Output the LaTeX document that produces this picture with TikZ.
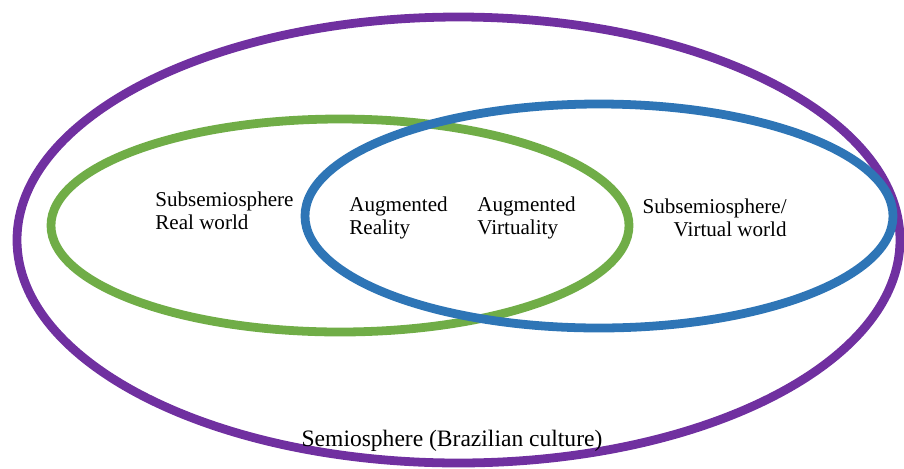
\documentclass[tikz,border=0pt]{standalone}
\usepackage{fontspec}
\setmainfont{Liberation Serif}
\usetikzlibrary{positioning}
\definecolor{semipurple}{HTML}{7030A0}
\definecolor{realgreen}{HTML}{70AD47}
\definecolor{virtblue}{HTML}{2E75B6}

\begin{document}
\begin{tikzpicture}[x=0.02cm, y=-0.02cm, auto,
    ring/.style={line width=5pt},
    label text/.style={inner sep=0, font=\fontsize{12}{13}\selectfont}]
	\useasboundingbox (0,0) rectangle (904,468);
	% centres of the three ellipses
	\coordinate (semio) at (458.5,240);
	\coordinate (real) at (340,225.5);
	\coordinate (virtual) at (599,216);
	% outer semiosphere first, then the two subsemiospheres
	\draw [ring, semipurple] (semio) ellipse [x radius=441.5, y radius=223];
	\draw [ring, realgreen] (real) ellipse [x radius=289, y radius=106.5];
	\draw [ring, virtblue] (virtual) ellipse [x radius=294, y radius=112];
	% the labels
	\node [label text, align=left, anchor=west] (reallabel) at (155,211) {Subsemiosphere\\Real world};
	\node [label text, align=left, anchor=west] (arlabel) at (349,218) {Augmented\\Reality};
	\node [label text, align=left, anchor=west] (avlabel) at (477,218) {Augmented\\Virtuality};
	\node [label text, align=right, anchor=east] (virtlabel) at (787,218) {Subsemiosphere/\\Virtual world};
	\node [label text, font=\fontsize{13.4}{15}\selectfont, anchor=base] (semiolabel) at (452,446) {Semiosphere (Brazilian culture)};
\end{tikzpicture}
\end{document}
